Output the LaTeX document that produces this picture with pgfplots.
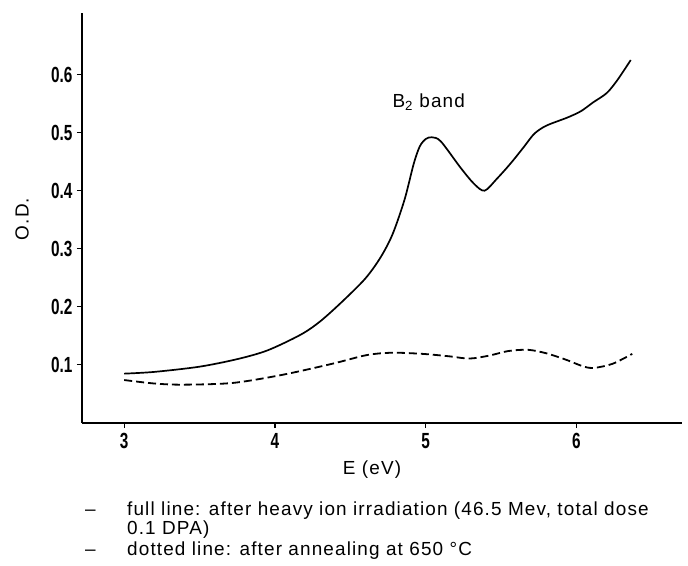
\documentclass[border=0pt]{standalone}
\usepackage{fontspec}
\setmainfont{Liberation Sans}
\newfontfamily\tickfont[FakeStretch=0.7]{Liberation Sans}
\newfontfamily\capfont[LetterSpace=6]{Liberation Sans}
\usepackage{pgfplots}
\pgfplotsset{compat=1.18}
\usetikzlibrary{calc}
\begin{document}
\begin{tikzpicture}
\begin{axis}[
  scale only axis, width=600bp, height=410bp,
  xmin=2.72, xmax=6.70, ymin=0, ymax=0.706,
  axis lines*=left,
  axis line style={line width=1.3bp},
  tick align=outside, major tick length=5bp,
  tick style={line width=1.1bp, black},
  xtick={3,4,5,6}, xticklabels={3,4,5,6},
  ytick={0.1,0.2,0.3,0.4,0.5,0.6}, yticklabels={0.1,0.2,0.3,0.4,0.5,0.6},
  ticklabel style={font=\tickfont\bfseries\fontsize{22}{22}\selectfont},
  xticklabel style={yshift=-2bp},
  yticklabel style={xshift=-1bp},
  clip=false,
]
\addplot[smooth, black, line width=1.7bp] coordinates {
(3.0,0.085)(3.2,0.088)(3.5,0.097)(3.75,0.110)(3.95,0.125)(4.17,0.152)(4.30,0.175)
(4.45,0.21)(4.6,0.249)(4.7,0.285)(4.78,0.325)(4.86,0.385)(4.92,0.446)(4.96,0.476)
(5.0,0.489)(5.04,0.492)(5.1,0.485)(5.23,0.44)(5.32,0.412)(5.39,0.400)(5.47,0.42)
(5.56,0.446)(5.65,0.475)(5.72,0.498)(5.8,0.512)(5.94,0.526)(6.03,0.537)(6.11,0.552)
(6.2,0.568)(6.27,0.59)(6.36,0.625)};
\addplot[smooth, black, line width=1.8bp, dash pattern=on 8bp off 4bp] coordinates {
(3.0,0.074)(3.2,0.068)(3.39,0.066)(3.72,0.069)(4.05,0.083)(4.38,0.102)(4.61,0.117)
(4.78,0.121)(4.98,0.119)(5.15,0.115)(5.29,0.111)(5.42,0.116)(5.55,0.124)(5.68,0.126)
(5.8,0.12)(5.93,0.109)(6.05,0.097)(6.12,0.095)(6.24,0.102)(6.37,0.119)};
\node[font=\capfont\fontsize{19}{19}\selectfont] at (axis cs:5.02,0.552) {B\textsubscript{2} band};
\end{axis}
\coordinate (O) at (current axis.south west);
\node[font=\capfont\fontsize{19}{19}\selectfont, rotate=90] at ($(O)+(-60bp,204bp)$) {O.D.};
\node[font=\capfont\fontsize{19}{19}\selectfont] at ($(O)+(290bp,-47bp)$) {E (eV)};
\node[font=\capfont\fontsize{19}{19}\selectfont, anchor=base west, inner sep=0pt] at ($(O)+(3bp,-92bp)$) {–};
\node[font=\capfont\fontsize{19}{19}\selectfont, anchor=base west, inner sep=0pt] at ($(O)+(45bp,-92bp)$) {full line: after heavy ion irradiation (46.5 Mev, total dose};
\node[font=\capfont\fontsize{19}{19}\selectfont, anchor=base west, inner sep=0pt] at ($(O)+(45bp,-111bp)$) {0.1 DPA)};
\node[font=\capfont\fontsize{19}{19}\selectfont, anchor=base west, inner sep=0pt] at ($(O)+(3bp,-132bp)$) {–};
\node[font=\capfont\fontsize{19}{19}\selectfont, anchor=base west, inner sep=0pt] at ($(O)+(45bp,-132bp)$) {dotted line: after annealing at 650 °C};
\pgfresetboundingbox
\useasboundingbox ($(O)+(-82bp,-143bp)$) rectangle ($(O)+(606bp,423bp)$);
\end{tikzpicture}
\end{document}
